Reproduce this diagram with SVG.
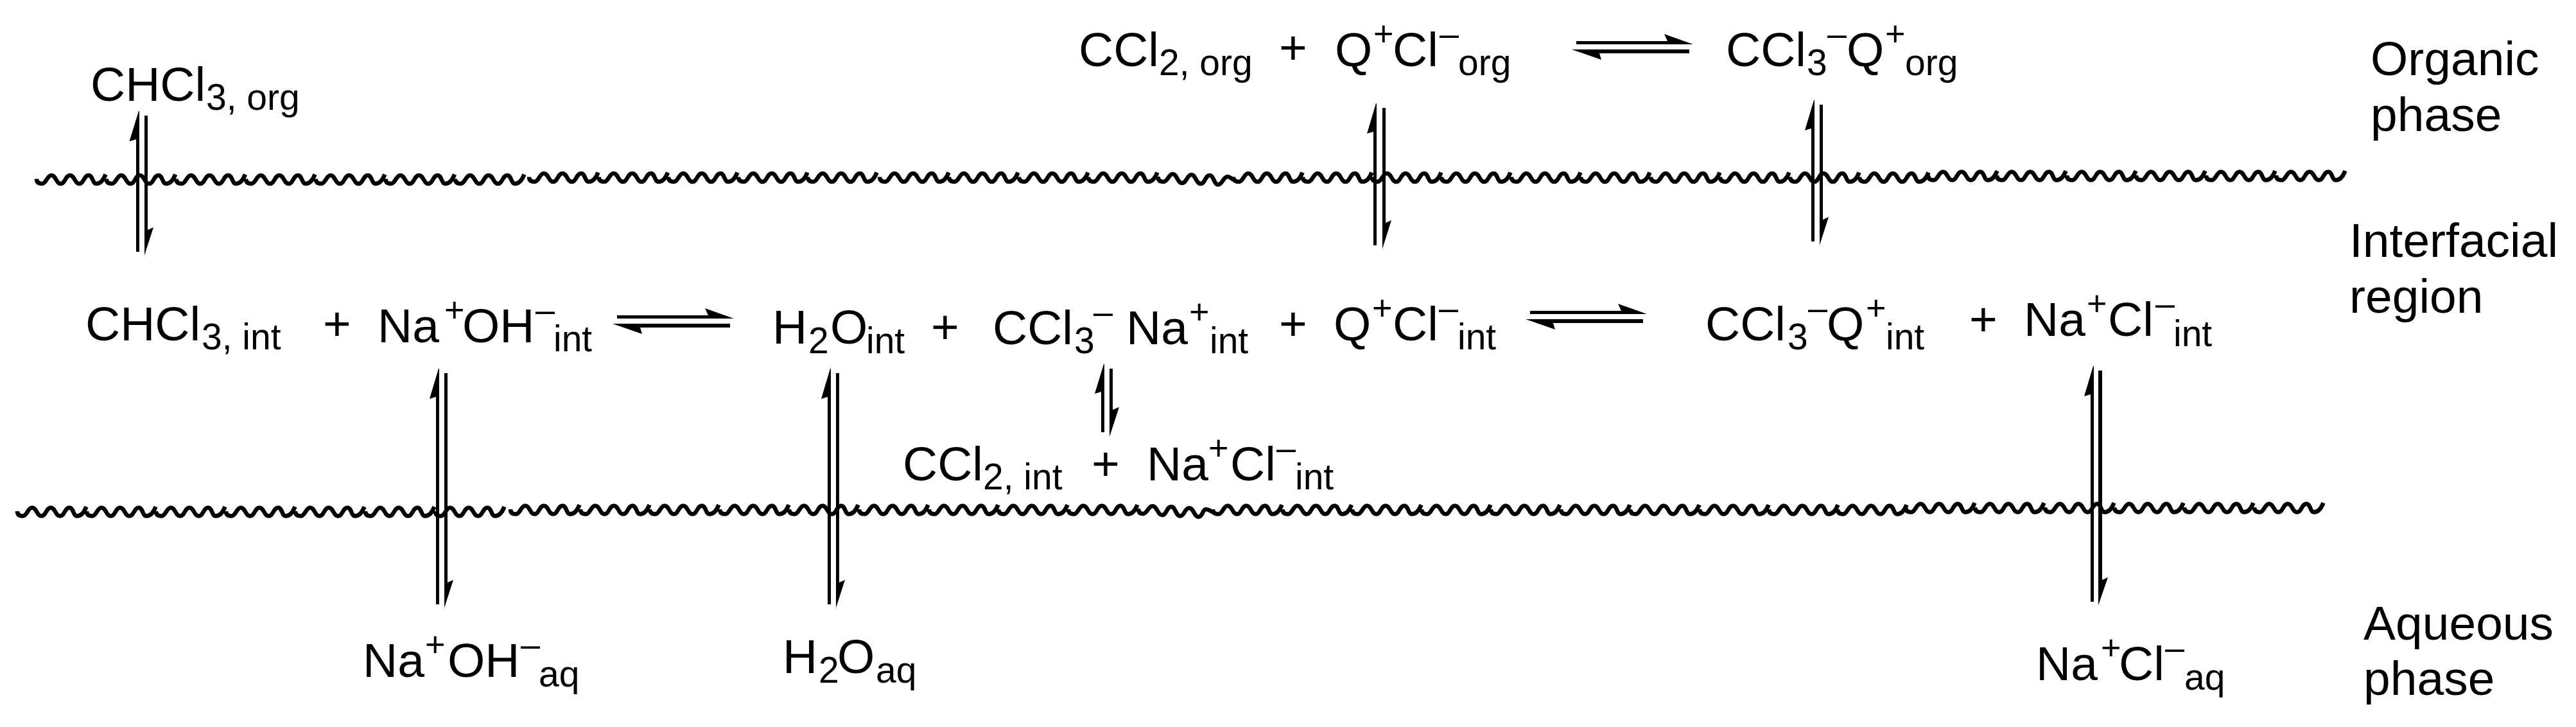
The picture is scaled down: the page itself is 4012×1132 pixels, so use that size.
<svg xmlns="http://www.w3.org/2000/svg" width="4012" height="1132" viewBox="0 0 4012 1132">
<style>
text{font-family:"Liberation Sans",Arial,sans-serif;font-size:75px;fill:#000}
.s{font-size:57px}
.u{font-size:54px}
.w{fill:none;stroke:#000;stroke-width:6.5}
.a{fill:#000;stroke:none}
</style>
<defs>
<path id="w" class="w" d="M0,-1C0,4 3,6.5 8.5,6.5C15,6.5 16.5,-6.5 23,-6.5C30,-6.5 30.5,6.5 37.5,6.5C44.5,6.5 45,-6.5 52,-6.5C59,-6.5 59.5,6.5 66.5,6.5C73.5,6.5 74,-6.5 81,-6.5C87.5,-6.5 87,6.5 93,6.5C100,6.5 104,1 107.5,-8"/>
<g id="h">
<polygon class="a" points="7,0 149,0 144,-11 189,5 7,5"/>
<polygon class="a" points="183,13 183,19 43,19 46,29 0,13"/>
</g>
</defs>
<rect width="4012" height="1132" fill="#fff"/>
<g id="interfaces">
<use href="#w" x="57" y="279.5"/><use href="#w" x="165.7" y="279.5"/><use href="#w" x="274.4" y="279.5"/><use href="#w" x="383" y="279.5"/><use href="#w" x="491.8" y="279.5"/><use href="#w" x="600.5" y="279.5"/><use href="#w" x="709" y="279.5"/>
<use href="#w" x="824" y="276.5"/><use href="#w" x="932.6" y="276.5"/><use href="#w" x="1041" y="276.5"/><use href="#w" x="1150" y="276.5"/><use href="#w" x="1258" y="276.5"/><use href="#w" x="1370" y="276.5"/><use href="#w" x="1478" y="276.5"/><use href="#w" x="1587" y="276.5"/><use href="#w" x="1695" y="276.5"/>
<path class="w" d="M1803.5,275C1803.5,280 1806,283 1812,283C1819,283 1820,271 1826.5,271C1833,271 1834,285 1841,285C1848,285 1849,272 1855.5,272C1862,272 1863,286 1870,286C1877,286 1877,273 1884,273C1890,273 1891,287.5 1897,287.5C1904,287.5 1905,275 1912,275C1915,275 1917,278 1922,280"/>
<use href="#w" x="1921" y="276.5"/><use href="#w" x="2029" y="276.5"/><use href="#w" x="2137" y="276.5"/><use href="#w" x="2245" y="276.5"/><use href="#w" x="2354" y="276.5"/><use href="#w" x="2462" y="276.5"/><use href="#w" x="2571" y="276.5"/><use href="#w" x="2679" y="276.5"/><use href="#w" x="2788" y="276.5"/><use href="#w" x="2896" y="276.5"/>
<use href="#w" x="3003" y="274"/><use href="#w" x="3110" y="274"/><use href="#w" x="3219" y="274"/><use href="#w" x="3327" y="274"/><use href="#w" x="3436" y="274"/><use href="#w" x="3545" y="274"/>
<use href="#w" x="27" y="797"/><use href="#w" x="135" y="797"/><use href="#w" x="243" y="797"/><use href="#w" x="352" y="797"/><use href="#w" x="460" y="797"/><use href="#w" x="569" y="797"/><use href="#w" x="678" y="797"/>
<use href="#w" x="795" y="794"/><use href="#w" x="904" y="794"/><use href="#w" x="1012" y="794"/><use href="#w" x="1121" y="794"/><use href="#w" x="1229" y="794"/><use href="#w" x="1338" y="794"/><use href="#w" x="1447" y="794"/><use href="#w" x="1555" y="794"/><use href="#w" x="1664" y="794"/>
<path class="w" d="M1773,792C1773,797 1775,800 1780,800C1787,800 1788,788 1795,788C1802,788 1803,802 1810,802C1817,802 1817,789 1824,789C1831,789 1831,803.5 1838,803.5C1845,803.5 1845,791 1852,791C1859,791 1860,805 1866.7,805C1873,805 1873,793 1878,793C1882,793 1884,795 1890,798"/>
<use href="#w" x="1889" y="794"/><use href="#w" x="1997.5" y="794"/><use href="#w" x="2106" y="794"/><use href="#w" x="2214" y="794"/><use href="#w" x="2322" y="794"/><use href="#w" x="2431" y="794"/><use href="#w" x="2539" y="794"/><use href="#w" x="2647" y="794"/><use href="#w" x="2755" y="794"/><use href="#w" x="2862" y="794"/>
<use href="#w" x="2968" y="791"/><use href="#w" x="3076" y="791"/><use href="#w" x="3185" y="791"/><use href="#w" x="3293" y="791"/><use href="#w" x="3402" y="791"/><use href="#w" x="3511" y="791"/>
</g>
<g id="connectors">
<polygon class="a" points="217,173 217,392 212,392 212,217 201.5,220 216,173"/><polygon class="a" points="225,180 230,180 230,358 239,354 224.5,399 225,399"/>
<polygon class="a" points="2144,161 2144,382 2139,382 2139,205 2129,208 2143,161"/><polygon class="a" points="2153,168 2158,168 2158,347 2167,343 2152.5,389 2153,389"/>
<polygon class="a" points="2826,156 2826,376 2821,376 2821,200 2811,203 2825,156"/><polygon class="a" points="2834,163 2839,163 2839,342 2848,338 2833.5,383 2834,383"/>
<polygon class="a" points="684,574 684,941 679,941 679,618 669,621 683,574"/><polygon class="a" points="692,581 697,581 697,907 706,903 691.5,948 692,948"/>
<polygon class="a" points="1294,574 1294,941 1289,941 1289,618 1279,621 1293,574"/><polygon class="a" points="1302,581 1307,581 1307,907 1316,903 1301.5,948 1302,948"/>
<polygon class="a" points="3261,570 3261,937 3256,937 3256,614 3246,617 3260,570"/><polygon class="a" points="3268,577 3274,577 3274,903 3283,899 3267.5,944 3268,944"/>
<polygon class="a" points="1720,567 1720,673 1715,673 1715,610 1705,613 1719,567"/><polygon class="a" points="1728,574 1733,574 1733,638 1743,634 1728,680"/>
<use href="#h" x="2448" y="64"/>
<use href="#h" x="2376" y="484"/>
<use href="#h" x="954" y="491"/>
</g>
<g id="chcl3-org"><text><tspan x="141" y="157">CHCl</tspan><tspan class="s" x="321" y="171">3, org</tspan></text></g>
<g id="ccl2-org"><text><tspan x="1680" y="103">CCl</tspan><tspan class="s" x="1805" y="117">2, org</tspan></text></g>
<g id="plus-org"><text x="1992" y="100">+</text></g>
<g id="qcl-org"><text><tspan x="2079" y="103">Q</tspan><tspan class="u" x="2139" y="71">+</tspan><tspan x="2169" y="103">Cl</tspan><tspan class="u" x="2242" y="71">–</tspan><tspan class="s" x="2271" y="117">org</tspan></text></g>
<g id="ccl3q-org"><text><tspan x="2688" y="103">CCl</tspan><tspan class="s" x="2814" y="117">3</tspan><tspan class="u" x="2846" y="71">–</tspan><tspan x="2876" y="103">Q</tspan><tspan class="u" x="2936" y="71">+</tspan><tspan class="s" x="2967" y="117">org</tspan></text></g>
<g id="label-organic"><text x="3692" y="117">Organic</text><text x="3692" y="204">phase</text></g>
<g id="label-interfacial"><text x="3659" y="400">Interfacial</text><text x="3659" y="487">region</text></g>
<g id="label-aqueous"><text x="3681" y="996">Aqueous</text><text x="3681" y="1082">phase</text></g>
<g id="chcl3-int"><text><tspan x="133" y="530">CHCl</tspan><tspan class="s" x="314" y="544">3, int</tspan></text></g>
<g id="plus-1"><text x="503" y="530">+</text></g>
<g id="naoh-int"><text><tspan x="588" y="533">Na</tspan><tspan class="u" x="692" y="501">+</tspan><tspan x="720" y="533">OH</tspan><tspan class="u" x="834" y="501">–</tspan><tspan class="s" x="862" y="547">int</tspan></text></g>
<g id="h2o-int"><text><tspan x="1203" y="535">H</tspan><tspan class="s" x="1259" y="550">2</tspan><tspan x="1293" y="535">O</tspan><tspan class="s" x="1349" y="550">int</tspan></text></g>
<g id="plus-2"><text x="1450" y="535">+</text></g>
<g id="ccl3na-int"><text><tspan x="1546" y="536">CCl</tspan><tspan class="s" x="1673" y="550">3</tspan><tspan class="u" x="1703" y="504">–</tspan><tspan x="1754" y="536">Na</tspan><tspan class="u" x="1852" y="504">+</tspan><tspan class="s" x="1884" y="550">int</tspan></text></g>
<g id="plus-3"><text x="1992" y="530">+</text></g>
<g id="qcl-int"><text><tspan x="2077" y="530">Q</tspan><tspan class="u" x="2137" y="498">+</tspan><tspan x="2169" y="530">Cl</tspan><tspan class="u" x="2241" y="498">–</tspan><tspan class="s" x="2270" y="544">int</tspan></text></g>
<g id="ccl3q-int"><text><tspan x="2656" y="530">CCl</tspan><tspan class="s" x="2784" y="544">3</tspan><tspan class="u" x="2816" y="498">–</tspan><tspan x="2845" y="530">Q</tspan><tspan class="u" x="2906" y="498">+</tspan><tspan class="s" x="2937" y="544">int</tspan></text></g>
<g id="plus-4"><text x="3067" y="523">+</text></g>
<g id="nacl-int"><text><tspan x="3152" y="523">Na</tspan><tspan class="u" x="3250" y="491">+</tspan><tspan x="3283" y="523">Cl</tspan><tspan class="u" x="3357" y="491">–</tspan><tspan class="s" x="3385" y="539">int</tspan></text></g>
<g id="ccl2-int"><text><tspan x="1406" y="748">CCl</tspan><tspan class="s" x="1531" y="762">2, int</tspan></text></g>
<g id="plus-5"><text x="1700" y="748">+</text></g>
<g id="nacl-int-2"><text><tspan x="1786" y="748">Na</tspan><tspan class="u" x="1882" y="716">+</tspan><tspan x="1916" y="748">Cl</tspan><tspan class="u" x="1988" y="716">–</tspan><tspan class="s" x="2017" y="762">int</tspan></text></g>
<g id="naoh-aq"><text><tspan x="565" y="1054">Na</tspan><tspan class="u" x="662" y="1022">+</tspan><tspan x="697" y="1054">OH</tspan><tspan class="u" x="811" y="1022">–</tspan><tspan class="s" x="839" y="1069">aq</tspan></text></g>
<g id="h2o-aq"><text><tspan x="1219" y="1048">H</tspan><tspan class="s" x="1275" y="1063">2</tspan><tspan x="1304" y="1048">O</tspan><tspan class="s" x="1364" y="1063">aq</tspan></text></g>
<g id="nacl-aq"><text><tspan x="3171" y="1059">Na</tspan><tspan class="u" x="3272" y="1027">+</tspan><tspan x="3300" y="1059">Cl</tspan><tspan class="u" x="3372" y="1027">–</tspan><tspan class="s" x="3402" y="1074">aq</tspan></text></g>
</svg>
